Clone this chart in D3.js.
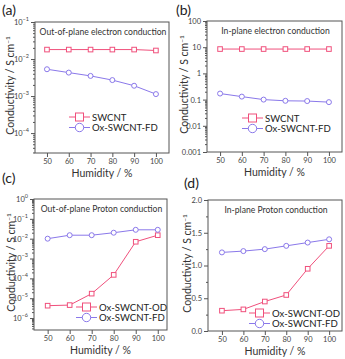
<!DOCTYPE html>
<html>
<head>
<meta charset="utf-8">
<script src="https://cdn.jsdelivr.net/npm/d3@7"></script>
<style>
  body { margin: 0; background: #fff; }
  svg { font-family: Lato, "DejaVu Sans", sans-serif; }
</style>
</head>
<body>
<svg id="svg" width="345" height="359"></svg>
<script>
const humidity = [50, 60, 70, 80, 90, 100];

// (a) out-of-plane electron
const aSWCNT = [0.018, 0.018, 0.018, 0.018, 0.018, 0.017];
const aFD = [0.0053, 0.0043, 0.0035, 0.0027, 0.0019, 0.00113];
// (b) in-plane electron
const bSWCNT = [8.5, 8.5, 8.5, 8.5, 8.5, 8.5];
const bFD = [0.17, 0.13, 0.1, 0.09, 0.088, 0.08];
// (c) out-of-plane proton
const cOD = [4.2e-6, 4.5e-6, 1.7e-5, 1.5e-4, 0.007, 0.015];
const cFD = [0.01, 0.015, 0.015, 0.02, 0.028, 0.028];
// (d) in-plane proton
const dOD = [0.31, 0.33, 0.45, 0.55, 0.95, 1.3];
const dFD = [1.2, 1.22, 1.25, 1.3, 1.35, 1.4];

const xTicks = [50, 60, 70, 80, 90, 100];
const aTicks = [1e-4, 1e-3, 1e-2, 1e-1];
const bTicks = [0.001, 0.01, 0.1, 1, 10, 100];
const bLabels = ["0.001", "0.01", "0.1", "1", "10", "100"];
const cTicks = [1e-6, 1e-5, 1e-4, 1e-3, 1e-2, 1e-1, 1];
const dTicks = [0, 0.5, 1, 1.5, 2];

const pink = "#f0507c";
const purple = "#8a78ea";

const svg = d3.select("#svg");

function supLabel(sel, v) {
  const e = Math.round(Math.log10(v));
  sel.text("");
  sel.append("tspan").text("10");
  sel.append("tspan").attr("dy", -4).attr("font-size", 5.5).text(String(e).replace("-", "\u2212"));
}

function panel(cfg) {
  const g = svg.append("g");
  const x = d3.scaleLinear().domain(cfg.xDomain).range([cfg.left, cfg.right]);
  const y = (cfg.log ? d3.scaleLog() : d3.scaleLinear()).domain(cfg.yDomain).range([cfg.bottom, cfg.top]);

  // frame
  g.append("rect")
    .attr("x", cfg.left).attr("y", cfg.top)
    .attr("width", cfg.right - cfg.left).attr("height", cfg.bottom - cfg.top)
    .attr("fill", "none").attr("stroke", "#555").attr("stroke-width", 1);

  // minor ticks on y
  let minor = [];
  if (cfg.log) {
    const lo = Math.floor(Math.log10(cfg.yDomain[0])), hi = Math.ceil(Math.log10(cfg.yDomain[1]));
    for (let p = lo; p < hi; p++) for (let k = 2; k <= 9; k++) {
      const v = k * Math.pow(10, p);
      if (v >= cfg.yDomain[0] && v <= cfg.yDomain[1]) minor.push(v);
    }
  } else {
    minor = d3.range(0.25, 2, 0.5);
  }
  g.append("g").attr("transform", `translate(${cfg.left},0)`)
    .call(d3.axisLeft(y).tickValues(minor).tickSize(2).tickFormat(""))
    .call(a => a.select(".domain").remove())
    .selectAll("line").attr("stroke", "#555");

  const ya = g.append("g").attr("transform", `translate(${cfg.left},0)`)
    .call(d3.axisLeft(y).tickValues(cfg.yTicks).tickSize(4).tickPadding(2)
      .tickFormat(cfg.yFormat || (() => "")));
  ya.select(".domain").remove();
  ya.selectAll("line").attr("stroke", "#555");
  ya.selectAll("text").attr("font-size", 7.5).attr("fill", "#444")
    .attr("font-family", "Lato, sans-serif");
  if (cfg.sup) ya.selectAll("text").each(function (d) { supLabel(d3.select(this), d); });

  const xa = g.append("g").attr("transform", `translate(0,${cfg.bottom})`)
    .call(d3.axisBottom(x).tickValues(xTicks).tickSize(4).tickPadding(2));
  xa.select(".domain").remove();
  xa.selectAll("line").attr("stroke", "#555");
  xa.selectAll("text").attr("font-size", 7.5).attr("fill", "#444")
    .attr("font-family", "Lato, sans-serif");

  // axis titles
  g.append("text")
    .attr("x", (cfg.left + cfg.right) / 2).attr("y", cfg.bottom + 24)
    .attr("text-anchor", "middle").attr("font-size", 10.5).attr("fill", "#333")
    .text("Humidity / %");
  const yl = g.append("text")
    .attr("transform", `translate(${cfg.left - cfg.yOff},${(cfg.top + cfg.bottom) / 2 - 2}) rotate(-90)`)
    .attr("text-anchor", "middle").attr("font-size", 10.5).attr("fill", "#333");
  yl.append("tspan").text("Conductivity / S cm");
  yl.append("tspan").attr("dy", -4).attr("font-size", 6.5).text("\u22121");

  g.append("text").attr("x", cfg.lx).attr("y", cfg.ly)
    .attr("font-size", 14).attr("fill", "#222").text(cfg.letter);

  g.append("text").attr("x", (cfg.left + cfg.right) / 2 + 1).attr("y", cfg.top + 13)
    .attr("text-anchor", "middle").attr("font-size", 8.6).attr("fill", "#333")
    .text(cfg.title);

  const line = d3.line().x((d, i) => x(humidity[i])).y(d => y(d));

  cfg.series.forEach(s => {
    g.append("path").datum(s.values).attr("d", line)
      .attr("fill", "none").attr("stroke", s.color).attr("stroke-width", 1);
    const m = g.selectAll(null).data(s.values).enter();
    if (s.shape === "square") {
      m.append("rect").attr("x", (d, i) => x(humidity[i]) - 2.3).attr("y", d => y(d) - 2.3)
        .attr("width", 4.6).attr("height", 4.6)
        .attr("fill", "#fff").attr("stroke", s.color).attr("stroke-width", 1);
    } else {
      m.append("circle").attr("cx", (d, i) => x(humidity[i])).attr("cy", d => y(d)).attr("r", 2.5)
        .attr("fill", "#fff").attr("stroke", s.color).attr("stroke-width", 1);
    }
  });

  // legend
  cfg.series.forEach((s, i) => {
    const ly = cfg.legY + i * 10.5;
    const lg = g.append("g");
    lg.append("line").attr("x1", cfg.legX).attr("x2", cfg.legX + 21)
      .attr("y1", ly).attr("y2", ly).attr("stroke", s.color).attr("stroke-width", 1);
    if (s.shape === "square") {
      lg.append("rect").attr("x", cfg.legX + 10.5 - 4).attr("y", ly - 4).attr("width", 8).attr("height", 8)
        .attr("fill", "#fff").attr("stroke", s.color);
    } else {
      lg.append("circle").attr("cx", cfg.legX + 10.5).attr("cy", ly).attr("r", 4.2)
        .attr("fill", "#fff").attr("stroke", s.color);
    }
    lg.append("text").attr("x", cfg.legX + 23).attr("y", ly + 3.5)
      .attr("font-size", 9.6).attr("fill", "#222").text(s.name);
  });
}

panel({
  letter: "(a)", lx: 2, ly: 15, yOff: 21,
  left: 35, right: 169, top: 22, bottom: 153,
  xDomain: [44.5, 106], log: true, yDomain: [2.9e-5, 0.1],
  yTicks: aTicks, sup: true,
  title: "Out-of-plane electron conduction",
  legX: 69, legY: 117,
  series: [
    { name: "SWCNT", values: aSWCNT, color: pink, shape: "square" },
    { name: "Ox-SWCNT-FD", values: aFD, color: purple, shape: "circle" }
  ]
});

panel({
  letter: "(b)", lx: 176, ly: 15, yOff: 19,
  left: 207, right: 342, top: 21, bottom: 152,
  xDomain: [44, 106], log: true, yDomain: [0.001, 100],
  yTicks: bTicks, yFormat: (d, i) => bLabels[i],
  title: "In-plane electron conduction",
  legX: 242, legY: 118,
  series: [
    { name: "SWCNT", values: bSWCNT, color: pink, shape: "square" },
    { name: "Ox-SWCNT-FD", values: bFD, color: purple, shape: "circle" }
  ]
});

panel({
  letter: "(c)", lx: 2, ly: 183, yOff: 19,
  left: 34, right: 167, top: 199, bottom: 330,
  xDomain: [43.8, 104.2], log: true, yDomain: [2.5e-7, 1],
  yTicks: cTicks, sup: true,
  title: "Out-of-plane Proton conduction",
  legX: 76, legY: 307,
  series: [
    { name: "Ox-SWCNT-OD", values: cOD, color: pink, shape: "square" },
    { name: "Ox-SWCNT-FD", values: cFD, color: purple, shape: "circle" }
  ]
});

panel({
  letter: "(d)", lx: 184, ly: 188, yOff: 17,
  left: 208, right: 342, top: 200, bottom: 331,
  xDomain: [43.5, 106], log: false, yDomain: [0, 2],
  yTicks: dTicks, yFormat: d3.format(".1f"),
  title: "In-plane Proton conduction",
  legX: 249, legY: 313,
  series: [
    { name: "Ox-SWCNT-OD", values: dOD, color: pink, shape: "square" },
    { name: "Ox-SWCNT-FD", values: dFD, color: purple, shape: "circle" }
  ]
});
</script>
</body>
</html>
